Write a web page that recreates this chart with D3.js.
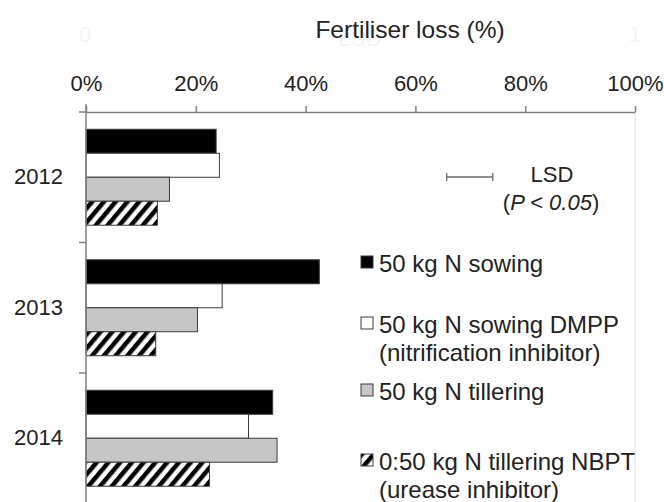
<!DOCTYPE html>
<html>
<head>
<meta charset="utf-8">
<script src="https://cdn.jsdelivr.net/npm/d3@7"></script>
<style>
  body { margin: 0; background: #fff; }
  text { font-family: "Liberation Sans", Arial, sans-serif; fill: #222; }
</style>
</head>
<body>
<div id="chart"></div>
<script>
// data
var years = ['2012', '2013', '2014'];
var sowing     = [23.7, 42.5, 34.0];
var sowingDmpp = [24.3, 24.8, 29.6];
var tillering  = [15.2, 20.3, 34.8];
var tillNbpt   = [13.0, 12.7, 22.5];
var xTicks = [0, 20, 40, 60, 80, 100];
var lsdStart = 65.7, lsdValue = 8.4;

var seriesKeys = ['sowing', 'dmpp', 'till', 'nbpt'];
var seriesVals = [sowing, sowingDmpp, tillering, tillNbpt];
var legendLines = [
  ['50 kg N sowing'],
  ['50 kg N sowing DMPP', '(nitrification inhibitor)'],
  ['50 kg N tillering'],
  ['0:50 kg N tillering NBPT', '(urease inhibitor)']
];

var width = 664, height = 502;
var svg = d3.select('#chart').append('svg')
  .attr('width', width)
  .attr('height', height);

var defs = svg.append('defs');
var pat = defs.append('pattern')
  .attr('id', 'hatch')
  .attr('patternUnits', 'userSpaceOnUse')
  .attr('width', 9).attr('height', 9)
  .attr('patternTransform', 'rotate(40)');
pat.append('rect').attr('width', 9).attr('height', 9).attr('fill', '#fff');
pat.append('rect').attr('width', 4.5).attr('height', 9).attr('fill', '#000');

var fills = ['#000', '#fff', '#c6c6c6', 'url(#hatch)'];

var x = d3.scaleLinear().domain([0, 100]).range([86, 635]);
var y = d3.scaleBand().domain(years).range([112, 503.5]);
var ys = d3.scaleBand().domain(seriesKeys).range([0, y.bandwidth()]).paddingOuter(0.72);

// faint leftovers behind the title
svg.append('text').attr('x', 85).attr('y', 42).attr('text-anchor', 'middle')
  .style('font-size', '22px').style('fill', '#f4f4f4').text('0');
svg.append('text').attr('x', 635).attr('y', 42).attr('text-anchor', 'middle')
  .style('font-size', '22px').style('fill', '#f4f4f4').text('1');
svg.append('text').attr('x', 360).attr('y', 46).attr('text-anchor', 'middle')
  .style('font-size', '22px').style('fill', '#f4f4f4').text('LSD');

// title
svg.append('text')
  .attr('x', 410).attr('y', 38)
  .attr('text-anchor', 'middle')
  .style('font-size', '24.5px')
  .text('Fertiliser loss (%)');

// right border
svg.append('line')
  .attr('x1', x(100)).attr('x2', x(100))
  .attr('y1', 112).attr('y2', height)
  .attr('stroke', '#e2e2e2');

// bars
seriesKeys.forEach(function(k, i) {
  svg.append('g').selectAll('rect')
    .data(seriesVals[i]).enter()
    .append('rect')
    .attr('x', x(0))
    .attr('y', function(d, j) { return y(years[j]) + ys(k); })
    .attr('width', function(d) { return x(d) - x(0); })
    .attr('height', ys.bandwidth())
    .attr('fill', fills[i])
    .attr('stroke', '#3a3a3a')
    .attr('stroke-width', 1);
});

// x axis on top
var xAxis = svg.append('g')
  .attr('transform', 'translate(0,112)')
  .call(d3.axisTop(x).tickValues(xTicks).tickFormat(function(d) { return d + '%'; })
    .tickSize(6).tickSizeOuter(0).tickPadding(15));
xAxis.select('.domain').attr('stroke', '#808080').attr('stroke-width', 1.5);
xAxis.selectAll('line').attr('stroke', '#808080').attr('stroke-width', 1.5);
xAxis.selectAll('text').style('font-size', '22px').style('font-family', '"Liberation Sans", Arial, sans-serif').attr('fill', '#222');

// y axis
var yAxis = svg.append('g')
  .attr('transform', 'translate(' + x(0) + ',0)')
  .call(d3.axisLeft(y).tickSize(0).tickPadding(23));
yAxis.select('.domain').remove();
yAxis.selectAll('text').style('font-size', '22px').style('font-family', '"Liberation Sans", Arial, sans-serif').attr('fill', '#222');

svg.append('line')
  .attr('x1', x(0)).attr('x2', x(0))
  .attr('y1', 104).attr('y2', height)
  .attr('stroke', '#808080').attr('stroke-width', 1.5);
var bounds = years.map(function(d) { return y(d); }).concat([y.range()[1]]);
svg.append('g').selectAll('line')
  .data(bounds).enter()
  .append('line')
  .attr('x1', x(0) - 7).attr('x2', x(0))
  .attr('y1', function(d) { return d; }).attr('y2', function(d) { return d; })
  .attr('stroke', '#808080').attr('stroke-width', 1.5);

// LSD bar
var lsdY = 177;
var lsd = svg.append('g').attr('stroke', '#6a6a6a').attr('stroke-width', 1.3);
lsd.append('line').attr('x1', x(lsdStart)).attr('x2', x(lsdStart + lsdValue)).attr('y1', lsdY).attr('y2', lsdY);
lsd.append('line').attr('x1', x(lsdStart)).attr('x2', x(lsdStart)).attr('y1', lsdY - 4).attr('y2', lsdY + 4);
lsd.append('line').attr('x1', x(lsdStart + lsdValue)).attr('x2', x(lsdStart + lsdValue)).attr('y1', lsdY - 4).attr('y2', lsdY + 4);

svg.append('text').attr('x', 552).attr('y', 182).attr('text-anchor', 'middle')
  .style('font-size', '22px').text('LSD');
var p = svg.append('text').attr('x', 551).attr('y', 210).attr('text-anchor', 'middle')
  .style('font-size', '22px');
p.append('tspan').text('(');
p.append('tspan').style('font-style', 'italic').text('P < 0.05');
p.append('tspan').text(')');

// legend
var legBase = [272, 333, 400, 470];
legendLines.forEach(function(lines, i) {
  svg.append('rect')
    .attr('x', 361).attr('y', legBase[i] - 16)
    .attr('width', 12).attr('height', 12)
    .attr('fill', fills[i])
    .attr('stroke', '#3a3a3a').attr('stroke-width', 1);
  var t = svg.append('text').attr('x', 379).attr('y', legBase[i])
    .style('font-size', '24px');
  lines.forEach(function(s, k) {
    t.append('tspan').attr('x', 379).attr('dy', k === 0 ? 0 : 28).text(s);
  });
});
</script>
</body>
</html>
